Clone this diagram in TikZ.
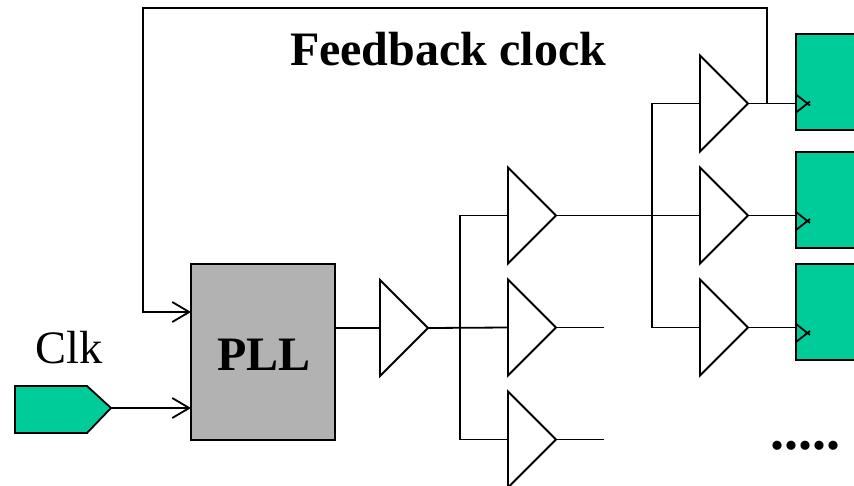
\documentclass[tikz,border=0pt]{standalone}
\usepackage{xcolor}
\usepackage{fontspec}
\setmainfont{Liberation Serif}
\usetikzlibrary{calc,arrows.meta,shapes.geometric}
\definecolor{ffgreen}{HTML}{00CC99}
\definecolor{pllgray}{HTML}{B2B2B2}

\begin{document}
\begin{tikzpicture}[x=1pt,y=-1pt,line width=1.8pt,
    >={Straight Barb[length=17pt,width=20pt,line width=1.8pt]},
    buf/.style={draw, isosceles triangle, isosceles triangle stretches,
      shape border rotate=0, minimum width=96pt, minimum height=48pt,
      inner sep=0pt, outer sep=0pt, anchor=lower side},
    ff/.style={draw, fill=ffgreen, minimum width=80pt, minimum height=96pt,
      inner sep=0pt, outer sep=0pt, anchor=north west}
    ]
    \clip (0,0) rectangle (854,485);

    \node[draw, fill=pllgray, minimum width=144pt, minimum height=176pt, inner sep=0pt,
      outer sep=0pt] (pll) at (263,352) {};
    \node[font=\fontsize{48}{52}\selectfont\bfseries] (plllabel) at (264,355) {PLL};
    \coordinate (clkpt) at (111,408);
    \fill[ffgreen, draw=black] (15,386) -- (87,386) -- (clkpt) -- (87,433) -- (15,433) -- cycle;
    \node[font=\fontsize{46.5}{50}\selectfont] (clklabel) at (69,348) {Clk};
    \node[font=\fontsize{48}{52}\selectfont\bfseries] (fblabel) at (448,49) {Feedback clock};
    \node[font=\fontsize{56}{60}\selectfont\bfseries] (dots) at (805,446) {.....};

    \node[buf] (b0) at (380,328) {};
    \node[buf] (b1) at (508,215.5) {};
    \node[buf] (b2) at (508,327.5) {};
    \node[buf] (b3) at (508,439.5) {};
    \node[buf] (b4) at (700,103.5) {};
    \node[buf] (b5) at (700,215.5) {};
    \node[buf] (b6) at (700,327.5) {};

    \node[ff] (ff1) at (796,34) {};
    \node[ff] (ff2) at (796,152) {};
    \node[ff] (ff3) at (796,264) {};

    % clock pins on the flops
    \foreach \n/\y in {1/103.5,2/221,3/333} {
      \draw (796,\y-9) -- (810,\y+2);
      \draw (796,\y+9) -- (810,\y-2);
    }

    % wires
    \coordinate (in1) at (796,103.5);
    \coordinate (in2) at (796,215.5);
    \coordinate (in3) at (796,327.5);
    \coordinate (fbtop) at (767,8);
    \coordinate (fbleft) at (143,8);
    \coordinate (j1) at (460,327.5);
    \coordinate (j2) at (652,215.5);
    \coordinate (e2) at (604,327.5);
    \coordinate (e3) at (604,439.5);
    \draw (pll.east |- b0.lower side) -- (b0.lower side);
    \draw (b0.apex) -- (b2.lower side);
    \draw (b1.lower side) -| (j1) |- (b3.lower side);
    \draw (b1.apex) -- (b5.lower side);
    \draw (b4.lower side) -| (j2) |- (b6.lower side);
    \draw (b2.apex) -- (e2);
    \draw (b3.apex) -- (e3);
    \draw (b4.apex) -- (in1);
    \draw (b5.apex) -- (in2);
    \draw (b6.apex) -- (in3);
    \draw[->] (fbtop |- in1) -- (fbtop) -- (fbleft) |- (pll.west |- 0,312);
    \draw[->] (clkpt) -- (pll.west |- clkpt);
  \end{tikzpicture}
\end{document}
